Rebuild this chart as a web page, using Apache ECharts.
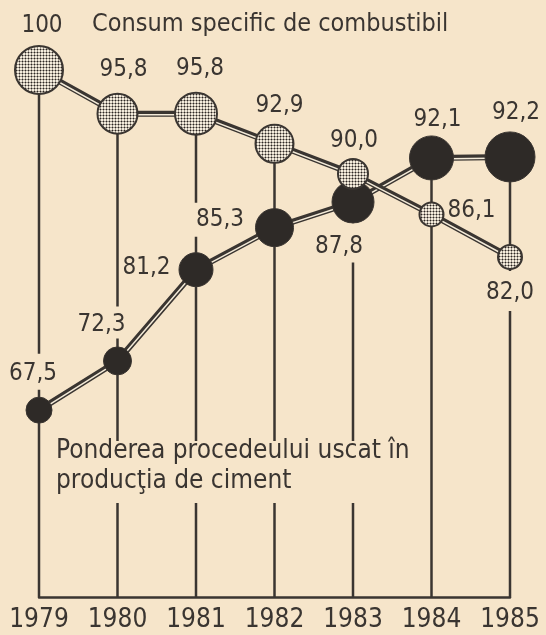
<!DOCTYPE html>
<html><head><meta charset="utf-8">
<script src="https://cdn.jsdelivr.net/npm/echarts@6/dist/echarts.min.js"></script>
<style>html,body{margin:0;padding:0;background:#f6e5ca}#c{width:546px;height:635px}</style>
</head><body><div id="c"></div>
<script>
// ---- data ----
const years = ['1979', '1980', '1981', '1982', '1983', '1984', '1985'];
const consum = [100, 95.8, 95.8, 92.9, 90.0, 86.1, 82.0];
const ponderea = [67.5, 72.3, 81.2, 85.3, 87.8, 92.1, 92.2];
const consumTitle = 'Consum specific de combustibil';
const pondereaTitle = 'Ponderea procedeului uscat în\nproducţia de ciment';

// ---- styles ----
const PAPER = '#f6e5ca';
const INK = '#3a3531';
const DARK = '#2e2a27';
const STRIPE = '#f3ead8';
const FONT = '"DejaVu Sans Condensed", "DejaVu Sans", sans-serif';
const consumSize = [50, 42, 44, 40, 32, 26, 26];
const pondereaSize = [26, 28, 34, 38, 42, 44, 50];
const consumLabel = [
  { position: 'top', distance: 6, offset: [3, 0] },
  { position: 'top', distance: 10, offset: [6, 0] },
  { position: 'top', distance: 10, offset: [4, 0] },
  { position: 'top', distance: 5, offset: [5, 0] },
  { position: 'top', distance: 4, offset: [1, 0] },
  { position: 'right', distance: 2, offset: [0, -4] },
  { position: 'bottom', distance: 0, offset: [0, 0], backgroundColor: PAPER, padding: [10, 3, 6, 3] }
];
const pondereaLabel = [
  { position: 'top', distance: 7, offset: [-6, 0], backgroundColor: PAPER, padding: [8, 3, 4, 3] },
  { position: 'top', distance: 8, offset: [-16, 0], backgroundColor: PAPER, padding: [6, 3, 2, 3] },
  { position: 'left', distance: 8, offset: [0, -2] },
  { position: 'left', distance: 8, offset: [0, -8], backgroundColor: PAPER, padding: [8, 3, 2, 3] },
  { position: 'bottom', distance: 0, offset: [-14, 0], backgroundColor: PAPER, padding: [11, 3, 4, 3] },
  { position: 'top', distance: 4, offset: [6, 0] },
  { position: 'top', distance: 7, offset: [6, 0] }
];

const LIGHT_MIN = 49.28, LIGHT_MAX = 100;
const DARK_MIN = 49.27, DARK_MAX = 100.68;

function dotPattern() {
  const c = document.createElement('canvas');
  c.width = 3; c.height = 3;
  const g = c.getContext('2d');
  g.fillStyle = '#f4ecdc'; g.fillRect(0, 0, 3, 3);
  g.fillStyle = 'rgba(50,44,40,0.45)';
  g.fillRect(0, 1, 1, 1); g.fillRect(2, 1, 1, 1); g.fillRect(1, 0, 1, 1); g.fillRect(1, 2, 1, 1);
  g.fillStyle = '#2a2522'; g.fillRect(1, 1, 1, 1);
  return c;
}
const DOTS = { image: dotPattern(), repeat: 'repeat' };

function fmtValue(v) {
  return v >= 100 ? String(v) : v.toFixed(1).replace('.', ',');
}

const chart = echarts.init(document.getElementById('c'), null, { renderer: 'canvas' });
const baseLabel = { show: true, formatter: p => fmtValue(p.value), color: INK, fontFamily: FONT, fontSize: 24 };

chart.setOption({
  backgroundColor: PAPER,
  animation: false,
  grid: [
    { left: 39, right: 36, top: 70, bottom: 38 },
    { left: 39, right: 36, top: 71, bottom: 37 }
  ],
  xAxis: [
    {
      gridIndex: 0, type: 'category', data: years, boundaryGap: false,
      axisLine: { lineStyle: { color: INK, width: 2.5 } },
      axisTick: { show: false }, splitLine: { show: false },
      axisLabel: { interval: 0, color: INK, fontFamily: FONT, fontSize: 26, margin: 10 }
    },
    { gridIndex: 1, type: 'category', data: years, boundaryGap: false, show: false }
  ],
  yAxis: [
    { gridIndex: 0, type: 'value', min: LIGHT_MIN, max: LIGHT_MAX, show: false },
    { gridIndex: 0, type: 'value', min: DARK_MIN, max: DARK_MAX, show: false },
    { gridIndex: 1, type: 'value', min: LIGHT_MIN, max: LIGHT_MAX, show: false },
    { gridIndex: 1, type: 'value', min: DARK_MIN, max: DARK_MAX, show: false }
  ],
  series: [
    {
      type: 'custom', xAxisIndex: 0, yAxisIndex: 0, z: 1, silent: true,
      data: years.map((y, i) => [i, Math.max(consum[i], ponderea[i])]),
      renderItem: (params, api) => {
        const top = api.coord([api.value(0), api.value(1)]);
        const bottom = api.coord([api.value(0), LIGHT_MIN]);
        return {
          type: 'line',
          shape: { x1: top[0], y1: top[1], x2: bottom[0], y2: bottom[1] },
          style: { stroke: INK, lineWidth: 2.5 }
        };
      }
    },
    { type: 'line', xAxisIndex: 0, yAxisIndex: 1, z: 2, silent: true, data: ponderea, symbol: 'none',
      lineStyle: { color: INK, width: 6, join: 'round' } },
    { type: 'line', xAxisIndex: 1, yAxisIndex: 3, z: 2, silent: true, data: ponderea, symbol: 'none',
      lineStyle: { color: STRIPE, width: 1.5 } },
    { type: 'line', xAxisIndex: 0, yAxisIndex: 0, z: 2, silent: true, data: consum, symbol: 'none',
      lineStyle: { color: INK, width: 6, join: 'round' } },
    { type: 'line', xAxisIndex: 1, yAxisIndex: 2, z: 2, silent: true, data: consum, symbol: 'none',
      lineStyle: { color: STRIPE, width: 1.5 } },
    {
      type: 'scatter', xAxisIndex: 0, yAxisIndex: 1, z: 3, silent: true,
      itemStyle: { color: DARK, borderColor: INK, borderWidth: 1, opacity: 1 },
      label: baseLabel,
      data: ponderea.map((v, i) => ({ value: v, symbolSize: pondereaSize[i], label: pondereaLabel[i] }))
    },
    {
      type: 'custom', xAxisIndex: 0, yAxisIndex: 0, z: 4, silent: true,
      data: consum.map((v, i) => [i, v]),
      renderItem: (params, api) => {
        const i = params.dataIndex;
        const c = api.coord([api.value(0), api.value(1)]);
        const r = consumSize[i] / 2;
        const lab = consumLabel[i];
        return {
          type: 'circle',
          shape: { cx: c[0], cy: c[1], r: r - 1 },
          style: { fill: DOTS, stroke: INK, lineWidth: 2 },
          textContent: {
            style: {
              text: fmtValue(api.value(1)), fill: INK, font: '24px ' + FONT,
              backgroundColor: lab.backgroundColor || 'transparent', padding: lab.padding || 0
            }
          },
          textConfig: { position: lab.position, distance: lab.distance + 1, offset: lab.offset }
        };
      }
    }
  ],
  graphic: [
    { type: 'rect', z: 100, silent: true, shape: { x: 43, y: 441, width: 381, height: 62 }, style: { fill: PAPER } },
    { type: 'text', z: 101, silent: true, x: 56, y: 436,
      style: { text: pondereaTitle, fill: INK, font: '26px ' + FONT, lineHeight: 30, align: 'left', verticalAlign: 'top' } },
    { type: 'text', z: 101, silent: true, x: 92, y: 12,
      style: { text: consumTitle, fill: INK, font: '25px ' + FONT, align: 'left', verticalAlign: 'top' } }
  ]
});
</script>
</body></html>
